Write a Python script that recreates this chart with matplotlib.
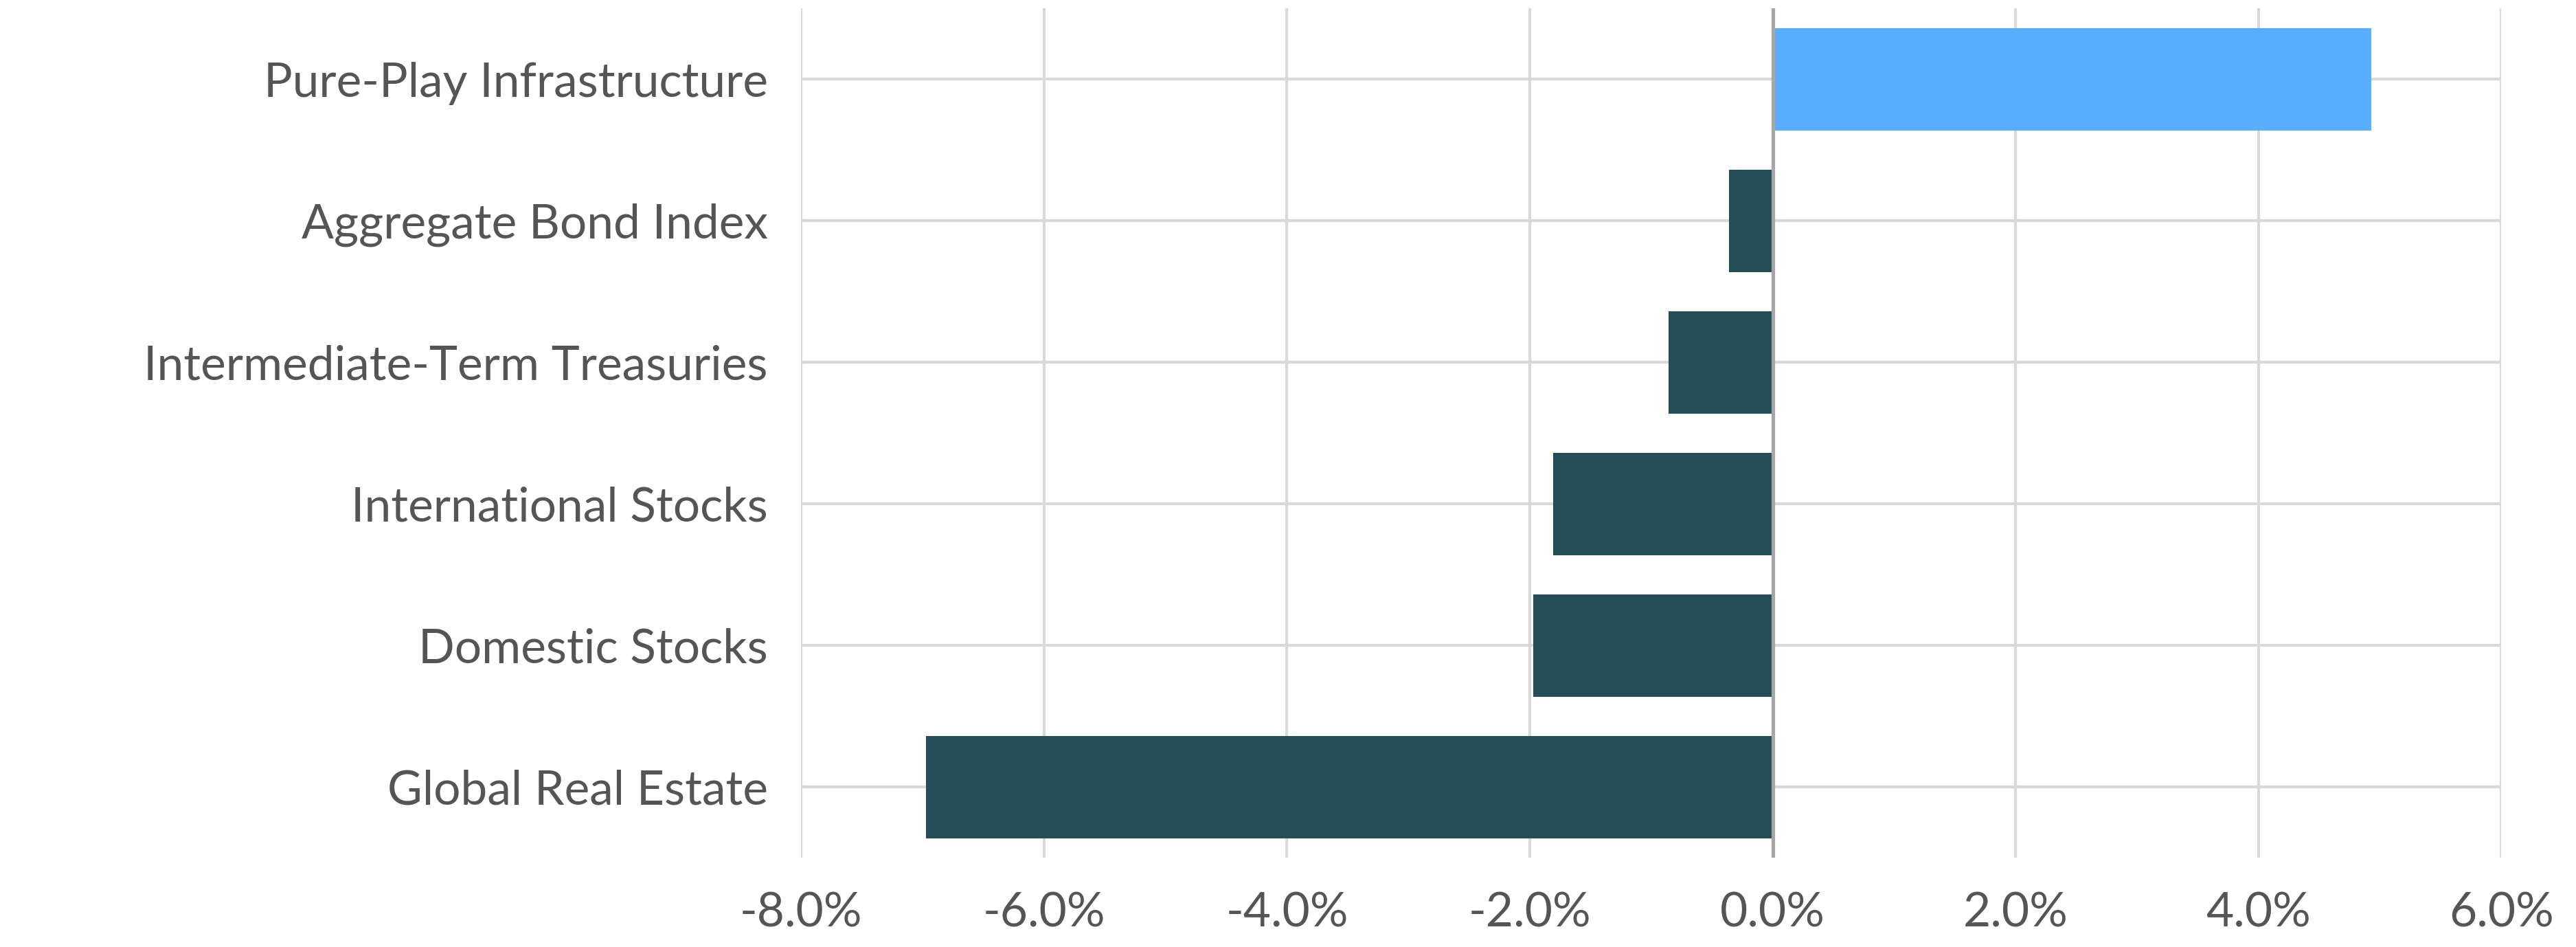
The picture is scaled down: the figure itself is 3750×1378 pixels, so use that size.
import matplotlib.pyplot as plt
from matplotlib.ticker import FuncFormatter

categories = ["Pure-Play Infrastructure", "Aggregate Bond Index", "Intermediate-Term Treasuries",
              "International Stocks", "Domestic Stocks", "Global Real Estate"]
returns = [4.93, -0.36, -0.86, -1.81, -1.97, -6.97]
xticks = [-8, -6, -4, -2, 0, 2, 4, 6]

plt.rcParams["font.family"] = ["Lato", "DejaVu Sans"]

fig = plt.figure(figsize=(15, 5.512), dpi=250)
ax = fig.add_axes([0.311, 0.094, 0.66, 0.897])

ypos = list(range(len(categories)))
colors = ["#5AAEFF" if v > 0 else "#254D58" for v in returns]
ax.barh(ypos, returns, height=0.72, color=colors, zorder=3)

ax.set_ylim(len(categories) - 0.5, -0.5)
ax.set_xlim(-8, 6)
ax.set_yticks(ypos)
ax.set_yticklabels(categories)
ax.set_xticks(xticks)
ax.xaxis.set_major_formatter(FuncFormatter(lambda v, p: f"{v:.1f}%"))

ax.grid(True, color="#D9D9D9", linewidth=1.2, zorder=0)
ax.axvline(0, color="#A6A6A6", linewidth=1.5, zorder=4)
for s in ax.spines.values():
    s.set_visible(False)
ax.tick_params(axis="both", length=0, labelsize=20, labelcolor="#555555")
ax.tick_params(axis="y", pad=14)
ax.tick_params(axis="x", pad=14)

fig.savefig("out.png", dpi=250)
